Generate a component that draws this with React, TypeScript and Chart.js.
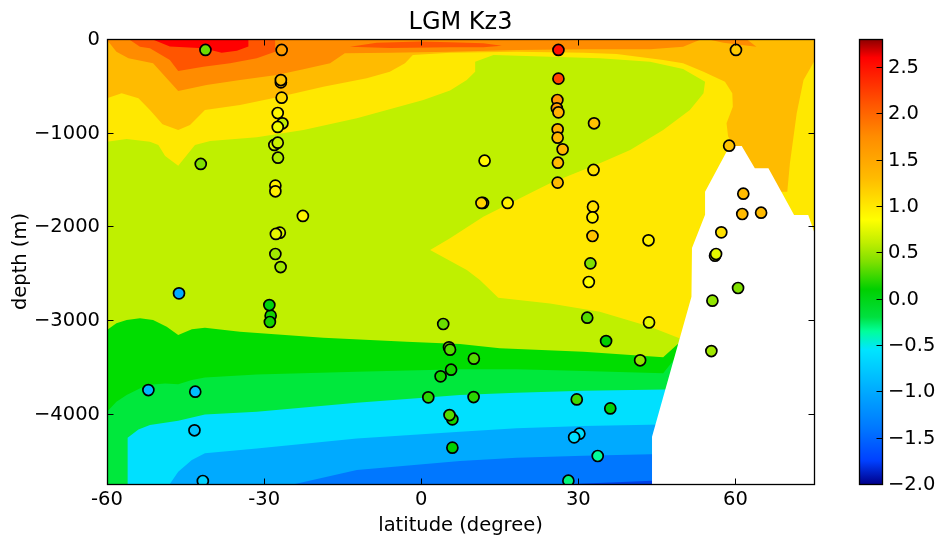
import React, { useEffect, useRef } from "react";
import { Chart, registerables } from "chart.js";

Chart.register(...registerables);

type Pair = [number, number];

const FONT = "'DejaVu Sans', sans-serif";

const domainBand: Pair[] = [[-60, 0], [75, 0], [75, -4750], [-60, -4750]];
const yellowBand: Pair[] = [
  [-60, 0], [75, 0], [75, -2500], [60, -3000], [49.3, -3195], [43.7, -3071], [34.1, -2911], [24.6, -2822],
  [14.7, -2761], [11.2, -2573], [8.7, -2466], [1.7, -2252], [5.5, -2128], [11.85, -1896], [22, -1612],
  [24.6, -1541], [34.1, -1327], [39.9, -1185], [46.2, -971], [51.3, -758], [53.9, -580], [54.2, -455],
  [50, -320], [43.7, -242], [34.1, -206], [24.6, -189], [13.8, -171], [10.3, -242], [10.3, -349], [8.7, -438],
  [5.5, -551], [0.4, -651], [-12.3, -847], [-22.5, -971], [-31.4, -1050], [-40.3, -1089], [-43.2, -1131],
  [-46.4, -1352], [-48.9, -1249], [-50.2, -1131], [-51.8, -1096], [-56.25, -1067], [-60, -1096],
];
const amberBand: Pair[] = [
  [-60, 0], [75, 0], [75, -242], [73, -438], [71.7, -793], [70.4, -1327], [69.9, -1630], [68.7, -1630],
  [66.3, -1500], [62, -1400], [59.6, -1131], [58.6, -1042], [58.3, -900], [59.5, -722], [59.4, -580], [58, -455],
  [53.9, -349], [50, -260], [46.2, -224], [37.3, -160], [31, -146], [18.2, -135], [5.5, -146], [-1.6, -171],
  [-3.1, -260], [-6, -349], [-10.4, -420], [-18.7, -509], [-27, -616], [-34.6, -704], [-41.3, -758],
  [-44.15, -918], [-46.4, -971], [-49.4, -911], [-51.8, -758], [-54, -633], [-57.2, -580], [-60, -633],
];
const orangeBand: Pair[] = [
  [-60, 0], [53.6, 0], [50, -82], [43.7, -110], [31, -110], [18.2, -117], [5.5, -135], [-6, -146], [-14.6, -153],
  [-17.4, -260], [-22.5, -324], [-27.6, -384], [-34.6, -438], [-41, -491], [-46.4, -555], [-48, -455],
  [-51.2, -260], [-55.9, -206], [-58.2, -135], [-59.75, -28],
];
const orangeCap: Pair[] = [[54.5, 0], [57.7, -39], [64, -82], [62.1, 0]];
const darkOrangeBand: Pair[] = [
  [-55.9, 0], [-53.7, -82], [-51.8, -100], [-48, -224], [-46.4, -342], [-41.6, -295], [-36.5, -260],
  [-31.4, -206], [-27.9, -135], [-27.9, 0],
];
const darkOrangeStrip: Pair[] = [
  [-13.6, -82], [-8.5, -39], [-0.2, -28], [5.5, -36], [11.85, -46], [15.4, -71], [11.85, -89], [5.5, -89], [-6, -96],
];
const redBand: Pair[] = [
  [-51.5, 0], [-48, -80], [-41.6, -100], [-38.1, -146], [-35.2, -125], [-33, -80], [-33, 0],
];
const greenBand: Pair[] = [
  [-60, -3106], [-58.2, -3035], [-56.25, -3000], [-53.7, -2982], [-51.2, -3000], [-48.6, -3071], [-46.4, -3160],
  [-43.8, -3099], [-41.3, -3082], [-34.6, -3124], [-18.7, -3188], [-2.8, -3231], [7.4, -3256], [15, -3302],
  [31, -3338], [46.2, -3398], [49, -3256], [52, -4750], [-60, -4750],
];
const springBand: Pair[] = [
  [-60, -3978], [-58.2, -3871], [-56.25, -3800], [-52.4, -3693], [-48.9, -3676], [-46.4, -3686], [-43.8, -3640],
  [-41.3, -3612], [-31.4, -3580], [-12.3, -3551], [7.4, -3526], [18.2, -3526], [31, -3544], [46.2, -3569],
  [48.3, -3420], [52, -4750], [-60, -4750],
];
const cyanBand: Pair[] = [
  [-56.06, -4750], [-56.06, -4256], [-54, -4167], [-51.8, -4120], [-46.4, -4074], [-41.3, -4007], [-31.4, -3978],
  [-12.3, -3882], [7.4, -3800], [18.2, -3775], [31, -3754], [46.5, -3740], [50, -3700], [52, -4750],
];
const skyBand: Pair[] = [
  [-48, -4750], [-46.4, -4619], [-43.8, -4494], [-41.3, -4423], [-31.4, -4370], [-12.3, -4263], [7.4, -4192],
  [18.2, -4156], [31, -4131], [46, -4115], [52, -4750],
];
const blueBand: Pair[] = [
  [-24.1, -4750], [-12.3, -4601], [7.4, -4505], [18.2, -4469], [31, -4448], [46, -4430], [46, -4750],
];
const deepBand: Pair[] = [[29, -4750], [44.07, -4715], [44.07, -4750]];
const seafloorMask: Pair[] = [
  [44.07, -4750], [44.07, -4245], [51.6, -2750], [51.7, -2231], [54.2, -1875], [54.2, -1630], [58.3, -1203],
  [59.9, -1142], [61.2, -1142], [63.7, -1380], [66.3, -1380], [71.2, -1879], [73.9, -1879], [75, -2056], [75, -4750],
];

const bands: { data: Pair[]; color: string }[] = [
  { data: domainBand, color: "#bff000" },
  { data: yellowBand, color: "#ffe800" },
  { data: amberBand, color: "#ffbb00" },
  { data: orangeBand, color: "#ff8c00" },
  { data: orangeCap, color: "#ff8c00" },
  { data: darkOrangeBand, color: "#ff5500" },
  { data: darkOrangeStrip, color: "#ff5500" },
  { data: redBand, color: "#ff0000" },
  { data: greenBand, color: "#00dd00" },
  { data: springBand, color: "#00e83c" },
  { data: cyanBand, color: "#00e0ff" },
  { data: skyBand, color: "#00aaff" },
  { data: blueBand, color: "#0077ff" },
  { data: deepBand, color: "#0040e8" },
  { data: seafloorMask, color: "#ffffff" },
];

const sampleLat = [
  -41.2, -26.65, -26.8, -26.8, -26.65, -27.4, -26.5, -27.4, -28.05, -27.4, -27.35, -27.85, -27.85, -22.6, -27, -27.75,
  -27.85, -26.85, -42.1, 26.2, 26.2, 26, 25.9, 26.2, 26.05, 26.05, 27, 26.1, 26.05, 33, 32.9, 12.1, 11.8, 11.5, 16.5,
  32.8, 32.7, 32.7, 43.4, 32.3, 60.1, 58.8, 61.5, 61.3, 64.9, 57.3, 56.1, 56.3, -46.25, -28.75, -28.9, -29, -52.1,
  -43.15, -43.3, -41.7, 4.2, 5.3, 5.5, 5.7, 3.7, 1.35, 5.95, 5.4, 5.95, 32, 31.7, 35.3, 43.5, 41.8, 10.05, 10, 29.7,
  36.1, 30.2, 29.2, 33.7, 28.1, 55.6, 60.5, 55.4,
];
const sampleDepth = [
  -117, -117, -463, -438, -626, -790, -900, -939, -1131, -1107, -1267, -1565, -1626, -1889, -2067, -2081,
  -2295, -2434, -1334, -117, -423, -651, -740, -783, -964, -1053, -1178, -1320, -1533, -900, -1398, -1299, -1750, -1750, -1750,
  -1790, -1904, -2103, -2149, -2395, -117, -1139, -1651, -1868, -1854, -2064, -2313, -2295, -2715, -2953, -3021, -2840, -3747,
  -3765, -4177, -4718, -3042, -3291, -3316, -3530, -3601, -3825, -4060, -4014, -4362, -2594, -2975, -3224, -3025, -3430, -3412, -3822, -3847,
  -3943, -4213, -4252, -4451, -4715, -2793, -2658, -3331,
];
const sampleKz = [
  0.35, 1.6, 1.25, 1.25, 1.1, 0.9, 0.6, 0.8, 0.7, 0.65, 0.55, 0.95, 0.95, 0.9, 0.7, 0.75,
  0.5, 0.5, 0.4, 2.5, 2.2, 1.65, 1.6, 1.4, 1.4, 1.35, 1.35, 1.3, 1.3, 1.25, 1.05, 0.9, 1.1, 1.15, 0.95,
  1.05, 0.95, 1.25, 0.95, 0.4, 1.2, 1.25, 1.3, 1.3, 1.3, 1.05, 0.75, 0.75, -1.0, 0.15, 0.15, 0.05, -0.9,
  -0.85, -0.8, -0.7, 0.35, 0.4, 0.3, 0.15, 0.15, 0.2, 0.15, 0.3, 0.1, 0.85, 0.3, 0.1, 0.75, 0.45, 0.3, 0.2, 0.25,
  0.05, -0.6, -0.6, -0.35, -0.3, 0.45, 0.4, 0.5,
];

const cbValues = [-2, -1.75, -1.4, -1, -0.55, -0.35, -0.2, 0.1, 0.4, 0.6, 0.85, 1.3, 1.75, 2.1, 2.6, 2.8];
const cbColors: [number, number, number][] = [
  [0, 0, 139], [0, 64, 255], [0, 119, 255], [0, 170, 255], [0, 229, 255], [0, 255, 153], [0, 224, 64], [0, 208, 0],
  [128, 224, 0], [191, 238, 0], [255, 255, 0], [255, 187, 0], [255, 140, 0], [255, 85, 0], [255, 0, 0], [139, 0, 0],
];
const xTicks = [-60, -30, 0, 30, 60];
const yTicks = [0, -1000, -2000, -3000, -4000];
const cbTicks = [-2, -1.5, -1, -0.5, 0, 0.5, 1, 1.5, 2, 2.5];

function rgb(c: number[]) {
  return `rgb(${c.map(Math.round).join(",")})`;
}
function colorOf(v: number) {
  for (let i = 1; i < cbValues.length; i++) {
    if (v <= cbValues[i]) {
      const t = (v - cbValues[i - 1]) / (cbValues[i] - cbValues[i - 1]);
      return rgb(cbColors[i].map((c, k) => cbColors[i - 1][k] + (c - cbColors[i - 1][k]) * t));
    }
  }
  return rgb(cbColors[cbColors.length - 1]);
}

const bandFill = {
  id: "bandFill",
  beforeDatasetsDraw(chart: any) {
    const { ctx, chartArea: a } = chart;
    ctx.save();
    ctx.beginPath();
    ctx.rect(a.left, a.top, a.right - a.left, a.bottom - a.top);
    ctx.clip();
    chart.data.datasets.forEach((ds: any, i: number) => {
      if (!ds.band) return;
      const pts = chart.getDatasetMeta(i).data;
      ctx.beginPath();
      pts.forEach((p: any, k: number) => (k ? ctx.lineTo(p.x, p.y) : ctx.moveTo(p.x, p.y)));
      ctx.closePath();
      ctx.fillStyle = ds.band;
      ctx.fill();
    });
    ctx.restore();
  },
};

const frame = (both: boolean) => ({
  id: "frame",
  afterDatasetsDraw(chart: any) {
    const { ctx, chartArea: a, scales } = chart;
    const px = (v: number) => Math.round(v) + 0.5;
    const L = Math.round(a.left) + 0.5, R = Math.round(a.right) + 0.5;
    const T = Math.round(a.top) + 0.5, B = Math.round(a.bottom) + 0.5;
    ctx.save();
    ctx.strokeStyle = "#000";
    ctx.lineWidth = 1;
    ctx.beginPath();
    scales.y.ticks.forEach((t: any) => {
      const y = px(scales.y.getPixelForValue(t.value));
      if (both) { ctx.moveTo(L, y); ctx.lineTo(L + 6, y); }
      ctx.moveTo(R, y); ctx.lineTo(R - 6, y);
    });
    if (both) {
      scales.x.ticks.forEach((t: any) => {
        const x = px(scales.x.getPixelForValue(t.value));
        ctx.moveTo(x, T); ctx.lineTo(x, T + 6);
        ctx.moveTo(x, B); ctx.lineTo(x, B - 6);
      });
    }
    ctx.stroke();
    ctx.lineWidth = 1.3;
    ctx.strokeRect(L, T, R - L, B - T);
    ctx.restore();
  },
});

export default function App() {
  const mainRef = useRef<HTMLCanvasElement>(null);
  const barRef = useRef<HTMLCanvasElement>(null);

  useEffect(() => {
    const tickFont = { family: FONT, size: 19.5 };
    const noGrid = { display: false, drawTicks: false, tickLength: 0 };
    const main = new Chart(mainRef.current!, {
      type: "scatter",
      plugins: [bandFill, frame(true)],
      data: {
        datasets: [
          ...bands.map((b) => ({
            band: b.color,
            data: b.data.map(([x, y]) => ({ x, y })),
            pointRadius: 0,
            showLine: false,
          })),
          {
            data: sampleLat.map((x, i) => ({ x, y: sampleDepth[i] })),
            pointRadius: 5.5,
            pointBorderWidth: 1.7,
            pointBorderColor: "#000",
            pointBackgroundColor: sampleKz.map(colorOf),
            showLine: false,
            clip: 0,
          },
        ] as any,
      },
      options: {
        animation: false,
        responsive: false,
        events: [],
        layout: { padding: { right: 124, left: 0, top: 0, bottom: 0 } },
        plugins: {
          legend: { display: false },
          tooltip: { enabled: false },
          title: {
            display: true,
            fullSize: false,
            text: "LGM Kz3",
            color: "#000",
            font: { family: FONT, size: 24, weight: "normal" },
            padding: { top: 8, bottom: 2.2 },
          },
        },
        scales: {
          x: {
            type: "linear",
            min: -60,
            max: 75,
            grid: noGrid,
            border: { display: false },
            afterBuildTicks: (s: any) => { s.ticks = xTicks.map((value) => ({ value })); },
            afterFit: (s: any) => { s.height = 51; },
            ticks: { font: tickFont, color: "#000", padding: 4, maxRotation: 0, autoSkip: false, callback: (v: any) => String(v) },
            title: { display: true, text: "latitude (degree)", color: "#000", font: tickFont, padding: { top: 0, bottom: -3 } },
          },
          y: {
            type: "linear",
            min: -4750,
            max: 0,
            grid: noGrid,
            border: { display: false },
            afterBuildTicks: (s: any) => { s.ticks = yTicks.map((value) => ({ value })); },
            afterFit: (s: any) => { s.width = 107; },
            ticks: { font: tickFont, color: "#000", padding: 7, labelOffset: 1, autoSkip: false, callback: (v: any) => String(v).replace("-", "\u2212") },
            title: { display: true, text: "depth (m)", color: "#000", font: tickFont, padding: { top: 9, bottom: 0 } },
          },
        },
      } as any,
    });

    const bar = new Chart(barRef.current!, {
      type: "bar",
      plugins: [frame(false)],
      data: {
        labels: ["Kz"],
        datasets: [
          {
            data: [[cbValues[0], cbValues[cbValues.length - 1]]],
            barPercentage: 1,
            categoryPercentage: 1,
            backgroundColor: (c: any) => {
              const { chart } = c;
              if (!chart.chartArea) return "#000";
              const y = chart.scales.y;
              const g = chart.ctx.createLinearGradient(0, y.getPixelForValue(cbValues[0]), 0, y.getPixelForValue(cbValues[cbValues.length - 1]));
              const lo = cbValues[0], hi = cbValues[cbValues.length - 1];
              cbValues.forEach((v, i) => g.addColorStop((v - lo) / (hi - lo), rgb(cbColors[i])));
              return g;
            },
          },
        ] as any,
      },
      options: {
        animation: false,
        responsive: false,
        events: [],
        layout: { padding: { left: 29, top: 39, bottom: 51, right: 0 } },
        plugins: { legend: { display: false }, tooltip: { enabled: false } },
        scales: {
          x: { display: false },
          y: {
            position: "right",
            min: -2,
            max: 2.8,
            grid: noGrid,
            border: { display: false },
            afterBuildTicks: (s: any) => { s.ticks = cbTicks.map((value) => ({ value })); },
            afterFit: (s: any) => { s.width = 56; },
            ticks: { font: tickFont, color: "#000", padding: 6, labelOffset: 1, autoSkip: false, callback: (v: any) => Number(v).toFixed(1).replace("-", "\u2212") },
          },
        },
      } as any,
    });

    return () => {
      main.destroy();
      bar.destroy();
    };
  }, []);

  return (
    <div style={{ position: "absolute", left: 0, top: 0, width: 938, height: 535, background: "#fff", overflow: "hidden" }}>
      <canvas ref={mainRef} width={938} height={535} style={{ position: "absolute", left: 0, top: 0 }} />
      <canvas ref={barRef} width={108} height={535} style={{ position: "absolute", left: 830, top: 0 }} />
    </div>
  );
}
